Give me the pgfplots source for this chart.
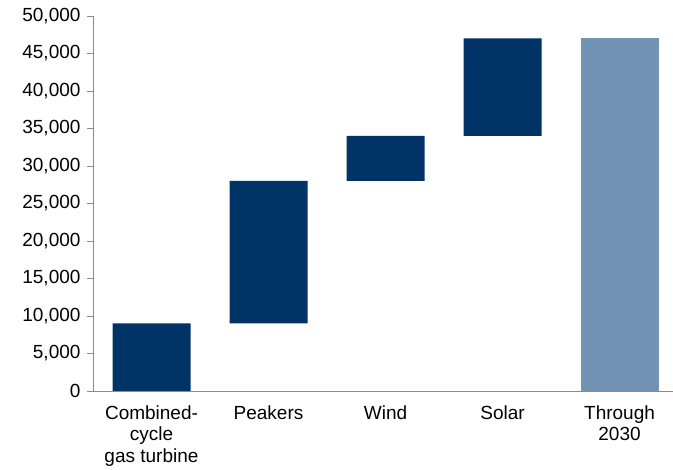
\documentclass[border=0pt]{standalone}
\usepackage{pgfplots}
\pgfplotsset{compat=1.18}
\usepackage{fontspec}
\setmainfont{Liberation Sans}

\definecolor{navy}{RGB}{0,51,102}
\definecolor{steel}{RGB}{115,147,180}
\definecolor{axisgrey}{RGB}{140,140,140}

\begin{document}
\begin{tikzpicture}
\begin{axis}[
    scale only axis,
    width=580pt, height=375pt,
    ybar stacked,
    bar width=78pt,
    xmin=-0.5, xmax=4.457,
    ymin=0, ymax=50000,
    axis x line*=bottom,
    axis y line*=left,
    axis line style={axisgrey, line width=0.9pt},
    every tick/.style={axisgrey, line width=0.9pt},
    tick align=outside,
    major tick length=6pt,
    minor tick length=6pt,
    xtick={0,1,2,3,4},
    xticklabels={{Combined-\\cycle\\gas turbine}, Peakers, Wind, Solar, {Through\\2030}},
    x tick label style={align=center, font=\fontsize{19}{21.5}\selectfont, yshift=-5pt},
    xtick style={draw=none},
    minor xtick={-0.5,0.5,1.5,2.5,3.5},
    minor x tick style={axisgrey, line width=0.9pt},
    ytick={0,5000,...,50000},
    scaled y ticks=false,
    y tick label style={font=\fontsize{19}{21.5}\selectfont, xshift=-3pt},
    yticklabel style={/pgf/number format/.cd, 1000 sep={,}, assume math mode=true},
    tick label style={text=black},
]
% invisible base of the floating bars
\addplot[draw=none, fill=none] coordinates {(0,0) (1,9000) (2,28000) (3,34000) (4,0)};
% increments
\addplot[draw=none, fill=navy] coordinates {(0,9000) (1,19000) (2,6000) (3,13000) (4,0)};
% total
\addplot[draw=none, fill=steel] coordinates {(0,0) (1,0) (2,0) (3,0) (4,47000)};
\end{axis}
\pgfresetboundingbox
\path (-93pt,-79pt) rectangle (580pt,391pt);
\end{tikzpicture}
\end{document}
